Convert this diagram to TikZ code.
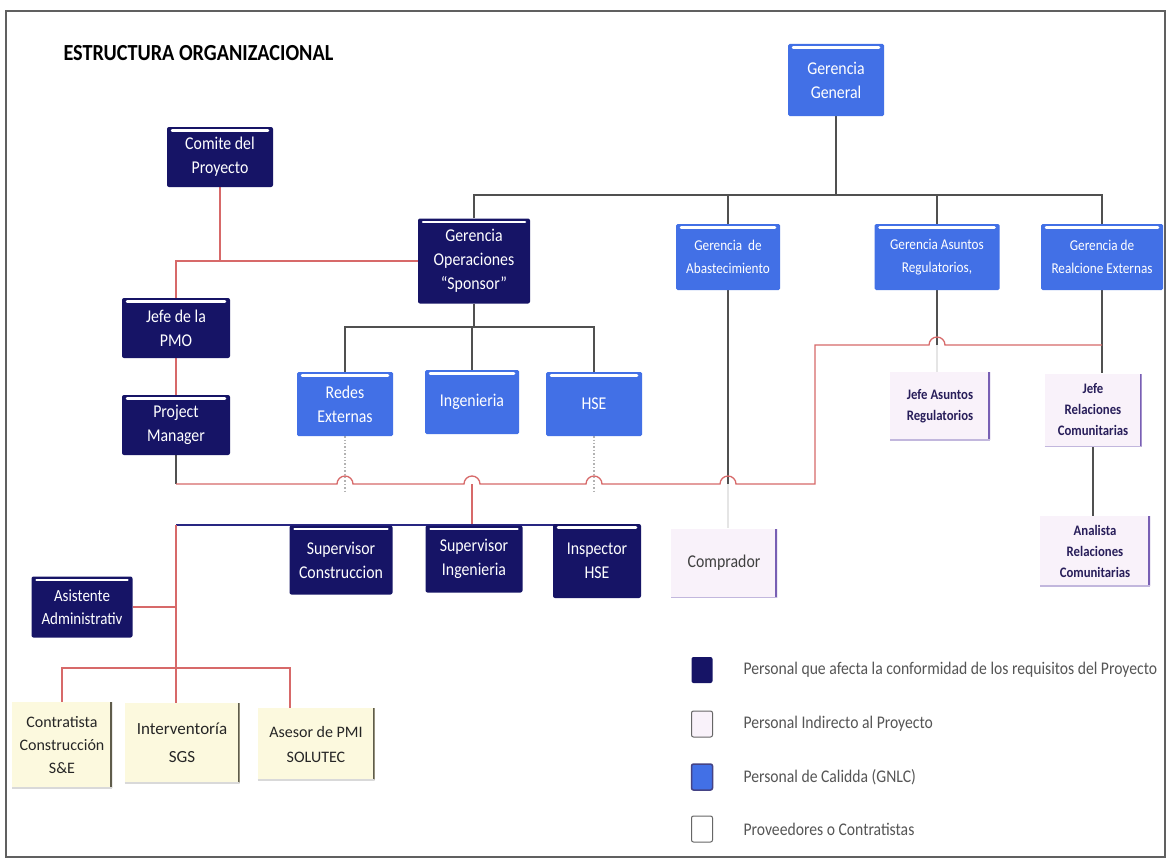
\documentclass[tikz,border=0pt]{standalone}
\usepackage{fontspec}
\setmainfont{Carlito}[FakeStretch=0.88]
\newfontfamily\plainfont{Carlito}
\usetikzlibrary{calc}
\pgfdeclarelayer{bg}
\pgfdeclarelayer{paper}
\pgfsetlayers{paper,bg,main}

\definecolor{navyC}{RGB}{22,20,102}
\definecolor{blueC}{RGB}{66,112,230}
\definecolor{lavC}{RGB}{249,242,250}
\definecolor{lavEdge}{RGB}{120,95,180}
\definecolor{lavText}{RGB}{40,30,90}
\definecolor{yelC}{RGB}{252,249,222}
\definecolor{yelEdge}{RGB}{95,92,75}
\definecolor{lineG}{RGB}{80,80,80}
\definecolor{lineR}{RGB}{215,105,105}
\definecolor{lineB}{RGB}{40,38,130}
\definecolor{legText}{RGB}{85,85,85}

\tikzset{
  orgbox/.style={rectangle, align=center, inner sep=1pt},
  gloss/.style={path picture={
      \draw[white, line width=2.5pt, line cap=round]
        ([xshift=5pt,yshift=-3.5pt]path picture bounding box.north west) --
        ([xshift=-5pt,yshift=-3.5pt]path picture bounding box.north east);}},
  navybox/.style={orgbox, rounded corners=2pt, fill=navyC, text=white,
      font=\fontsize{18}{24}\selectfont, gloss},
  bluebox/.style={orgbox, rounded corners=1.5pt, fill=blueC, text=white,
      font=\fontsize{18}{24}\selectfont, gloss},
  smallblue/.style={bluebox, font=\fontsize{15}{23}\selectfont},
  lavbox/.style={orgbox, fill=lavC, text=lavText,
      font=\bfseries\fontsize{14.5}{21}\selectfont,
      path picture={
        \draw[lavEdge, line width=4pt]
          (path picture bounding box.north east) -- (path picture bounding box.south east);
        \draw[lavEdge!45, line width=2pt]
          (path picture bounding box.south west) -- (path picture bounding box.south east);}},
  yelbox/.style={orgbox, fill=yelC, text=black!85,
      font=\plainfont\fontsize{16}{24}\selectfont,
      path picture={
        \draw[yelEdge, line width=4pt]
          (path picture bounding box.north east) -- (path picture bounding box.south east);
        \draw[black!15, line width=2pt]
          (path picture bounding box.south west) -- (path picture bounding box.south east);}},
  gline/.style={draw=lineG, line width=1.6pt},
  rline/.style={draw=lineR, line width=1.3pt},
  bline/.style={draw=lineB, line width=2pt},
  dline/.style={draw=gray!60, line width=1.4pt, dotted},
  faint/.style={draw=gray!20, line width=1.2pt},
  legkey/.style={rectangle, rounded corners=2pt, minimum width=21pt, minimum height=26pt, inner sep=0pt},
  legtxt/.style={anchor=west, text=legText, font=\fontsize{17.8}{20}\selectfont},
}

\begin{document}
\begin{tikzpicture}[x=1pt, y=-1pt]
\useasboundingbox (0,0) rectangle (1169,859);
\begin{pgfonlayer}{paper}
  \fill[white] (0,0) rectangle (1169,859);
\end{pgfonlayer}

% title
\node[anchor=west, font=\bfseries\fontsize{23}{26}\selectfont] (title) at (60,53) {ESTRUCTURA ORGANIZACIONAL};

% management level
\node[bluebox, minimum width=96pt, minimum height=72pt] (gg) at (836,80) {Gerencia\\General};
\node[navybox, minimum width=106pt, minimum height=60pt] (comite) at (220,157) {Comite del\\Proyecto};
\node[navybox, minimum width=112pt, minimum height=85pt] (gop) at (474,261) {Gerencia\\Operaciones\\``Sponsor''};
\node[smallblue, minimum width=104pt, minimum height=66pt] (gab) at (728,257) {Gerencia\ \ de\\Abastecimiento};
\node[smallblue, minimum width=125pt, minimum height=66pt] (gar) at (937,257) {Gerencia Asuntos\\Regulatorios,};
\node[smallblue, minimum width=122pt, minimum height=66pt] (gre) at (1102,257) {Gerencia de\\Realcione Externas};

% project office
\node[navybox, minimum width=108pt, minimum height=60pt] (pmo) at (176,328) {Jefe de la\\PMO};
\node[navybox, minimum width=108pt, minimum height=60pt] (pm) at (176,425) {Project\\Manager};

% operations areas
\node[bluebox, minimum width=96pt, minimum height=64pt] (redes) at (345,404) {Redes\\Externas};
\node[bluebox, minimum width=94pt, minimum height=64pt] (ing) at (472,402) {Ingenieria};
\node[bluebox, minimum width=96pt, minimum height=64pt] (hse) at (594,404) {HSE};

% field staff
\node[navybox, minimum width=103pt, minimum height=69pt] (supc) at (341,560) {Supervisor\\Construccion};
\node[navybox, minimum width=97pt, minimum height=67pt] (supi) at (474,559) {Supervisor\\Ingenieria};
\node[navybox, minimum width=88pt, minimum height=74pt] (insp) at (597,561) {Inspector\\HSE};
\node[lavbox, minimum width=106pt, minimum height=69pt, text=black!75,
      font=\fontsize{18}{22}\selectfont] (comp) at (724,563) {Comprador};

% indirect staff
\node[lavbox, minimum width=100pt, minimum height=68pt] (jar) at (940,406) {Jefe Asuntos\\Regulatorios};
\node[lavbox, minimum width=97pt, minimum height=73pt] (jrc) at (1093,410) {Jefe\\Relaciones\\Comunitarias};
\node[lavbox, minimum width=110pt, minimum height=70pt] (anal) at (1095,551) {Analista\\Relaciones\\Comunitarias};

% administration and contractors
\node[navybox, minimum width=101pt, minimum height=61pt, font=\fontsize{17}{23}\selectfont] (asis) at (82,607) {Asistente\\Administrativ};
\node[yelbox, minimum width=100pt, minimum height=86pt, font=\plainfont\fontsize{16}{23}\selectfont] (contr) at (62,745) {Contratista\\Construcción\\S\&E};
\node[yelbox, minimum width=115pt, minimum height=80pt, font=\plainfont\fontsize{17}{28}\selectfont] (interv) at (182,743) {Interventoría\\SGS};
\node[yelbox, minimum width=117pt, minimum height=72pt, font=\plainfont\fontsize{16}{25}\selectfont] (asesor) at (316,744) {Asesor de PMI\\SOLUTEC};

% junction points
\coordinate (busTop) at (836,195);
\coordinate (opBus) at (474,327);
\coordinate (pmJ) at (176,484);
\coordinate (rc1) at (815,484);
\coordinate (rc2) at (815,345);
\coordinate (bl) at (176,525);
\coordinate (cJ) at (176,668);
\coordinate (cR) at (290,668);

\begin{pgfonlayer}{bg}
  % general management tree
  \draw[gline] (gg.south) -- (busTop);
  \draw[gline] (gop.north) |- (busTop) -| (gre.north);
  \draw[gline] (gab.north) -- (gab.north |- busTop);
  \draw[gline] (gar.north) -- (gar.north |- busTop);
  % operations tree
  \draw[gline] (gop.south) -- (opBus);
  \draw[gline] (redes.north) |- (opBus) -| (hse.north);
  \draw[gline] (ing.north) -- (ing.north |- opBus);
  % committee and PMO chain
  \draw[rline] (comite.south) -- (comite.south |- gop.west);
  \draw[rline] (pmo.north) |- (gop.west);
  \draw[rline] (pmo.south) -- (pm.north);
  \draw[gline] (pm.south) -- (pmJ);
  % verticals crossed by the project line
  \draw[dline] (redes.south) -- ($(redes.south |- pmJ)+(0,-9pt)$);
  \draw[dline] (hse.south) -- ($(hse.south |- pmJ)+(0,-9pt)$);
  \draw[gline] (gab.south) -- (gab.south |- pmJ);
  \draw[faint] (gab.south |- pmJ) -- (gab.south |- comp.north);
  \draw[gline] (gar.south) -- (gar.south |- rc2);
  \draw[faint] (gar.south |- rc2) -- (gar.south |- jar.north);
  \draw[gline] (gre.south) -- (gre.south |- jrc.north);
  \draw[gline] (jrc.south) -- (jrc.south |- anal.north);
  % project line with hops
  \draw[rline] (pmJ)
    -- ($(redes.south |- pmJ)+(-8pt,0)$) arc[start angle=180, end angle=0, radius=8pt]
    -- ($(ing.south |- pmJ)+(-8pt,0)$) arc[start angle=180, end angle=0, radius=8pt]
    -- ($(hse.south |- pmJ)+(-8pt,0)$) arc[start angle=180, end angle=0, radius=8pt]
    -- ($(gab.south |- pmJ)+(-8pt,0)$) arc[start angle=180, end angle=0, radius=8pt]
    -- (rc1) -- (rc2)
    -- ($(gar.south |- rc2)+(-8pt,0)$) arc[start angle=180, end angle=0, radius=8pt]
    -- (rc2 -| gre.south);
  \draw[rline] (ing.south |- pmJ) -- (ing.south |- supi.north);
  % field staff line
  \draw[bline] (bl) -- (bl -| insp.north);
  % administration and contractors
  \draw[rline] (bl) -- (cJ);
  \draw[rline] (asis.east) -- (asis.east -| bl);
  \draw[rline] (contr.north) |- (cJ) -- (cR) -- (cR |- asesor.north);
  \draw[rline] (cJ) -- (cJ |- interv.north);
\end{pgfonlayer}

% legend
\node[legkey, fill=navyC] (k1) at (702,670) {};
\node[legkey, fill=lavC, draw=gray!80!black, line width=1pt] (k2) at (702,724) {};
\node[legkey, fill=blueC, draw=navyC!80, line width=1.5pt] (k3) at (702,777) {};
\node[legkey, fill=white, draw=gray!80!black, line width=1pt] (k4) at (702,829) {};
\node[legtxt] (t1) at (740,670) {Personal que afecta la conformidad de los requisitos del Proyecto};
\node[legtxt] (t2) at (740,724) {Personal Indirecto al Proyecto};
\node[legtxt] (t3) at (740,777) {Personal de Calidda (GNLC)};
\node[legtxt] (t4) at (740,829) {Proveedores o Contratistas};

% frame
\draw[gray!75!black, line width=1.3pt] (6,11) rectangle (1165,857);
\end{tikzpicture}
\end{document}
